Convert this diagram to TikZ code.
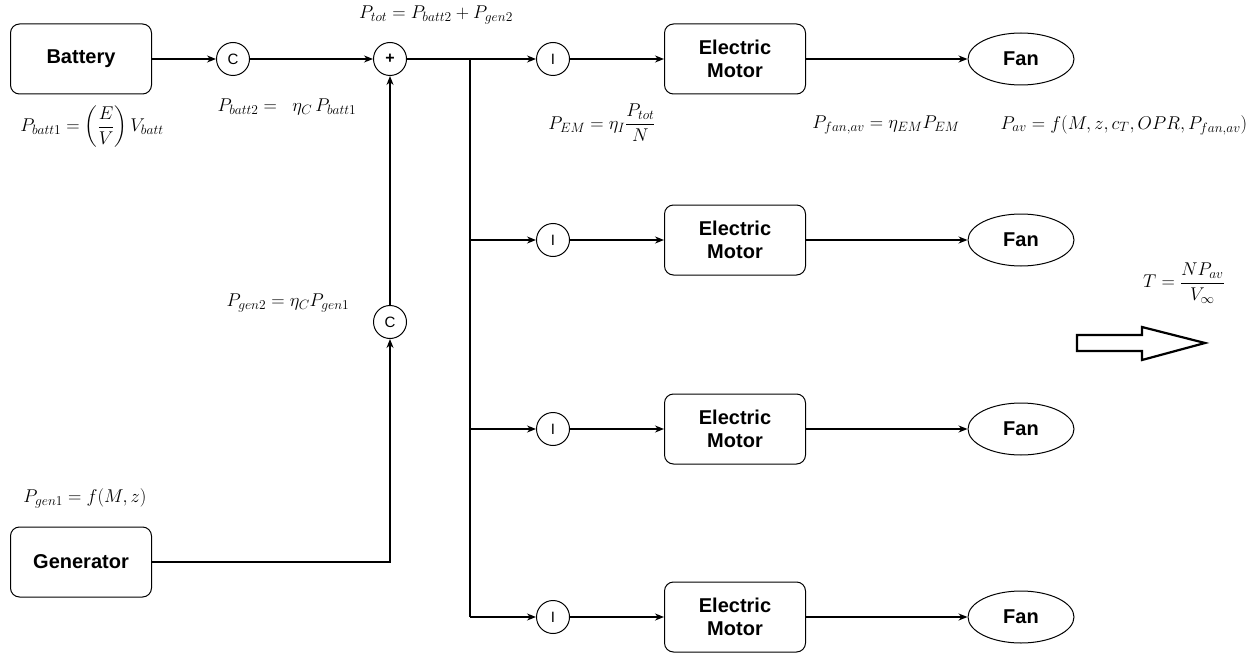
\documentclass[tikz,border=0pt]{standalone}
\usepackage{fix-cm}
\usepackage{amsmath}
\usepackage{fontspec}
\setmainfont{Liberation Sans}
\DeclareMathSizes{18.5}{18.5}{13.5}{10}
\usetikzlibrary{arrows.meta,shapes.geometric}
\begin{document}
\begin{tikzpicture}[x=1pt,y=-1pt,
  line width=1.4pt,
  blk/.style={draw, rounded corners=9pt, minimum width=141pt, minimum height=70pt, align=center, font=\fontsize{20}{23}\selectfont\bfseries, line width=1pt},
  op/.style={draw, circle, minimum size=33pt, inner sep=0pt, font=\fontsize{15}{17}\selectfont, line width=1pt},
  fan/.style={draw, ellipse, minimum width=106pt, minimum height=52pt, inner sep=0pt, font=\fontsize{20}{23}\selectfont\bfseries, line width=1pt},
  eq/.style={font=\fontsize{18.5}{21}\selectfont, inner sep=0pt},
  arr/.style={-{Stealth[length=9pt,width=7pt]}}
]
\useasboundingbox (0,0) rectangle (1252,655);
% nodes
\node[blk] (bat) at (81,59) {Battery};
\node[blk] (gen) at (81,562) {Generator};
\node[op] (c1) at (233,59) {C};
\node[op, font=\fontsize{16}{18}\selectfont\bfseries] (plus) at (390,59) {+};
\node[op] (c2) at (390,322) {C};
\coordinate (j0) at (470,59);
\coordinate (j1) at (470,240);
\coordinate (j2) at (470,429);
\coordinate (j3) at (470,617);
\coordinate (gc) at (390,562);
\foreach \i/\y in {0/59,1/240,2/429,3/617}{
  \node[op] (i\i) at (553,\y) {I};
  \node[blk] (em\i) at (735,\y) {Electric\\Motor};
  \node[fan] (fan\i) at (1021,\y) {Fan};
}
% connectors
\draw[arr] (bat) -- (c1);
\draw[arr] (c1) -- (plus);
\draw[arr] (c2) -- (plus);
\draw[arr] (gen.east) -- (gc) -- (c2);
\draw (plus) -- (j0);
\draw (j0) -- (j3);
\draw[arr] (j0) -- (i0);
\draw[arr] (j1) -- (i1);
\draw[arr] (j2) -- (i2);
\draw[arr] (j3) -- (i3);
\foreach \i in {0,1,2,3}{
  \draw[arr] (i\i) -- (em\i);
  \draw[arr] (em\i) -- (fan\i);
}
% big outline arrow
\draw[line width=2.2pt, line join=miter]
  (1077,335) -- (1142,335) -- (1142,327) -- (1205,343) -- (1142,360) -- (1142,351) -- (1077,351) -- cycle;
% equations
\node[eq] (e1) at (436,15) {$P_{tot} = P_{batt2} + P_{gen2}$};
\node[eq] (e2) at (287,107) {$P_{batt2} =\ \ \eta_C\, P_{batt1}$};
\node[eq] (e3) at (92,127) {$P_{batt1} = \left(\dfrac{E}{V}\right) V_{batt}$};
\node[eq] (e4) at (602,123) {$P_{EM} = \eta_I \dfrac{P_{tot}}{N}$};
\node[eq] (e5) at (886,125) {$P_{fan,av} = \eta_{EM} P_{EM}$};
\node[eq] (e6) at (1124,125) {$P_{av} = f(M,z,c_T,OPR,P_{fan,av})$};
\node[eq] (e7) at (288,303) {$P_{gen2} = \eta_C P_{gen1}$};
\node[eq] (e8) at (85,498) {$P_{gen1} = f(M,z)$};
\node[eq] (e9) at (1184,283) {$T = \dfrac{NP_{av}}{V_\infty}$};
\end{tikzpicture}
\end{document}
